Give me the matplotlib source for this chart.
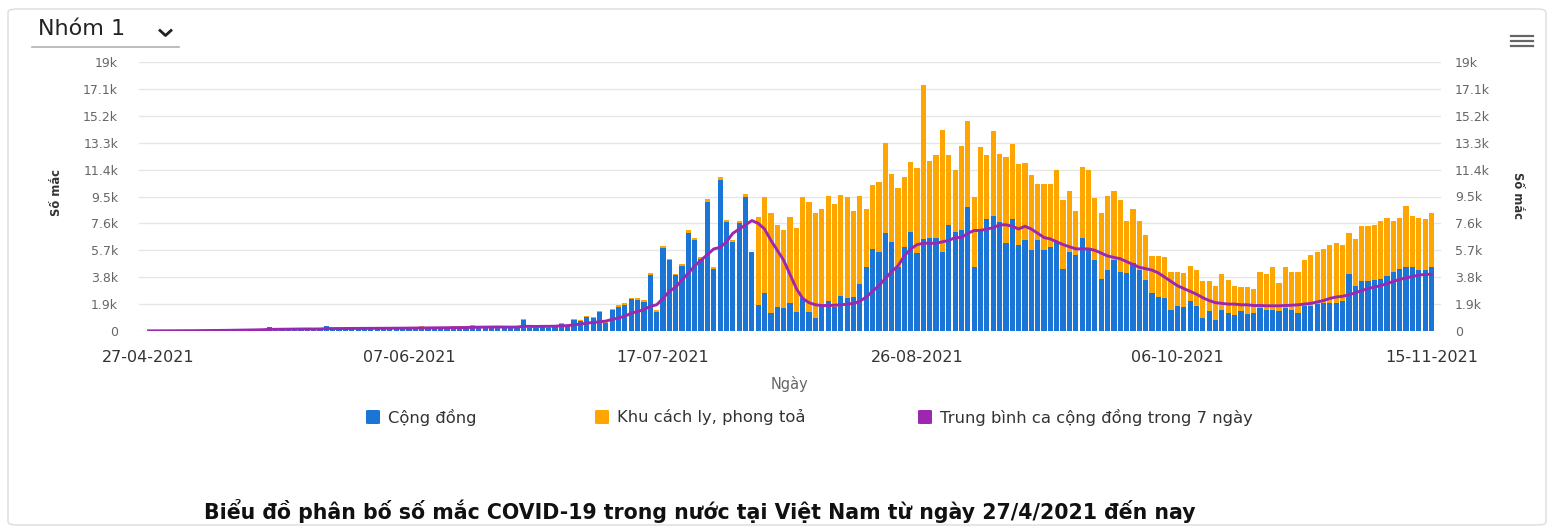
import numpy as np
import pandas as pd
import matplotlib
matplotlib.use("Agg")
import matplotlib.pyplot as plt
from matplotlib.patches import FancyBboxPatch
from matplotlib.lines import Line2D

# ---- data (so ca mac moi ngay, 27-04-2021 -> 15-11-2021) ----
dates = pd.date_range("2021-04-27", "2021-11-15", freq="D")

cong_dong = [
    10, 12, 15, 18, 20, 25, 22, 30, 35, 40,
    45, 60, 55, 70, 80, 85, 95, 110, 120, 250,
    120, 130, 110, 150, 140, 160, 130, 170, 350, 150,
    180, 160, 200, 190, 170, 210, 220, 180, 200, 190,
    210, 230, 220, 300, 200, 190, 240, 250, 260, 300,
    280, 370, 250, 300, 320, 300, 250, 200, 300, 780,
    200, 220, 350, 220, 350, 500, 320, 780, 730, 970,
    900, 1370, 530, 1480, 1720, 1840, 2240, 2200, 2070, 3950,
    1370, 5850, 5000, 3950, 4600, 6950, 6400, 5100, 9100, 4400,
    10660, 7700, 6300, 7600, 9500, 5600, 1840, 2700, 1300, 1700,
    1600, 2000, 1370, 2300, 1370, 900, 1840, 2100, 1700, 2500,
    2300, 2400, 3300, 4500, 5800, 5600, 6900, 6300, 4500, 5900,
    7000, 5500, 6500, 6600, 6600, 5600, 7500, 7000, 7100, 8780,
    4500, 7100, 7900, 8100, 7700, 6200, 7900, 6100, 6400, 5700,
    6400, 5700, 5900, 6300, 4400, 5600, 5400, 6600, 5700, 5000,
    3700, 4300, 5000, 4200, 4100, 4800, 4300, 3600, 2700, 2400,
    2300, 1500, 1800, 1700, 2100, 1800, 900, 1400, 800, 1500,
    1300, 1100, 1400, 1200, 1300, 1600, 1500, 1500, 1400, 1600,
    1500, 1300, 1800, 1800, 1900, 2000, 2000, 2000, 2100, 4000,
    3200, 3500, 3500, 3600, 3700, 3900, 4200, 4400, 4500, 4500,
    4300, 4300, 4500,
]

cach_ly = [
    0, 0, 2, 0, 3, 5, 0, 4, 6, 8,
    5, 10, 8, 12, 10, 15, 10, 12, 15, 20,
    15, 18, 20, 15, 22, 20, 18, 30, 25, 20,
    20, 25, 22, 18, 20, 25, 30, 20, 22, 25,
    25, 30, 35, 28, 25, 30, 45, 40, 60, 70,
    80, 60, 50, 70, 60, 60, 50, 70, 40, 60,
    55, 40, 50, 45, 60, 50, 60, 70, 80, 60,
    70, 40, 80, 90, 100, 110, 120, 100, 90, 150,
    80, 150, 120, 100, 130, 150, 140, 120, 200, 110,
    200, 160, 150, 180, 200, 0, 6230, 6800, 7000, 5800,
    5500, 6070, 5880, 7200, 7730, 7400, 6760, 7400, 7300, 7100,
    7200, 6100, 6200, 4100, 4500, 4900, 6400, 4800, 5600, 5000,
    4960, 6000, 10900, 5400, 5800, 8600, 4900, 4400, 6000, 6020,
    5000, 5900, 4500, 6000, 4800, 6100, 5300, 5700, 5500, 5300,
    4000, 4700, 4500, 5100, 4850, 4300, 3100, 5000, 5700, 4400,
    4600, 5200, 4900, 5050, 3700, 3800, 3500, 3200, 2600, 2900,
    2900, 2700, 2400, 2400, 2500, 2500, 2600, 2100, 2400, 2500,
    2300, 2100, 1700, 1900, 1700, 2600, 2500, 3000, 2000, 2900,
    2700, 2900, 3200, 3600, 3700, 3800, 4100, 4200, 4000, 2900,
    3300, 3900, 3900, 3900, 4100, 4050, 3600, 3550, 4300, 3600,
    3650, 3600, 3800,
]

tb_7_ngay = [
    10, 11, 12, 14, 16, 18, 20, 23, 26, 30,
    34, 39, 44, 50, 57, 64, 72, 80, 90, 115,
    120, 125, 130, 135, 140, 145, 140, 145, 170, 172,
    175, 175, 178, 180, 185, 188, 190, 195, 195, 198,
    200, 205, 210, 220, 220, 222, 225, 230, 235, 240,
    245, 265, 270, 275, 280, 285, 280, 275, 280, 330,
    330, 320, 330, 330, 340, 370, 380, 440, 480, 560,
    600, 650, 700, 820, 920, 1050, 1250, 1380, 1500, 1750,
    1850, 2300, 2800, 3100, 3600, 4100, 4600, 5000, 5400, 5800,
    5900, 6300, 6900, 7200, 7500, 7800, 7600, 7200, 6400, 5700,
    5000, 4000, 3000, 2300, 2000, 1850, 1800, 1800, 1820, 1850,
    1900, 1950, 2100, 2400, 2800, 3200, 3700, 4200, 4600, 5300,
    5800, 6100, 6200, 6200, 6200, 6300, 6400, 6600, 6600, 6900,
    7100, 7100, 7200, 7300, 7500, 7500, 7400, 7200, 7400, 7200,
    6900, 6600, 6500, 6300, 6100, 5950, 5800, 5800, 5800, 5700,
    5500, 5300, 5200, 5100, 4900, 4700, 4500, 4400, 4300, 4100,
    3800, 3500, 3200, 3000, 2800, 2600, 2350, 2150, 2000, 1950,
    1900, 1900, 1850, 1850, 1800, 1800, 1780, 1780, 1780, 1800,
    1820, 1850, 1900, 1950, 2050, 2150, 2300, 2400, 2450, 2550,
    2700, 2850, 3000, 3100, 3200, 3350, 3500, 3650, 3750, 3850,
    3950, 4000, 4000,
]

y_ticks = [0, 1900, 3800, 5700, 7600, 9500, 11400, 13300, 15200, 17100, 19000]
y_labels = ["0", "1.9k", "3.8k", "5.7k", "7.6k", "9.5k", "11.4k", "13.3k", "15.2k", "17.1k", "19k"]
x_tick_dates = pd.to_datetime(["2021-04-27", "2021-06-07", "2021-07-17",
                               "2021-08-26", "2021-10-06", "2021-11-15"])
x_tick_labels = ["27-04-2021", "07-06-2021", "17-07-2021", "26-08-2021", "06-10-2021", "15-11-2021"]

series_names = ["Cộng đồng", "Khu cách ly, phong toả", "Trung bình ca cộng đồng trong 7 ngày"]
c_blue, c_orange, c_purple = "#1b75d6", "#ffa500", "#9c27b0"

# ---- figure, pixel helpers ----
W, H = 1550, 527
fig = plt.figure(figsize=(W / 100, H / 100), dpi=100)


def fx(px):
    return px / W


def fy(py):
    return 1 - py / H


# card border
fig.patches.append(FancyBboxPatch((fx(8), fy(525)), fx(1538), (525 - 9) / H,
                                  boxstyle="round,pad=0,rounding_size=0.006",
                                  transform=fig.transFigure, facecolor="white",
                                  edgecolor="#dcdcdc", lw=1.0, zorder=0))

ax = fig.add_axes([fx(139), fy(331), (1441 - 139) / W, (331 - 62) / H])
ax.set_zorder(2)

ax.bar(dates, cong_dong, width=0.82, color=c_blue, zorder=2)
ax.bar(dates, cach_ly, width=0.82, bottom=cong_dong, color=c_orange, zorder=2)
ax.plot(dates, tb_7_ngay, color=c_purple, lw=2.1, zorder=3)

ax.set_xlim(dates[0] - pd.Timedelta(days=1.5), dates[-1] + pd.Timedelta(days=1.5))
ax.set_ylim(0, 19000)
ax.set_yticks(y_ticks)
ax.set_yticklabels(y_labels)
ax.set_xticks(x_tick_dates)
ax.set_xticklabels(x_tick_labels)
ax.yaxis.grid(True, color="#e6e6e6", lw=1, zorder=0)
ax.set_axisbelow(True)
for s in ax.spines.values():
    s.set_visible(False)
ax.tick_params(axis="y", length=0, pad=15, labelsize=9, labelcolor="#666666")
ax.tick_params(axis="x", length=0, pad=14, labelsize=11.5, labelcolor="#333333")

ax2 = ax.twinx()
ax2.set_ylim(0, 19000)
ax2.set_yticks(y_ticks)
ax2.set_yticklabels(y_labels)
for s in ax2.spines.values():
    s.set_visible(False)
ax2.tick_params(axis="y", length=0, pad=10, labelsize=9, labelcolor="#666666")

# axis titles
fig.text(fx(57), fy(193), "Số mắc", rotation=90, ha="center", va="center",
         fontsize=8.3, fontweight="bold", color="#333333")
fig.text(fx(1518), fy(195), "Số mắc", rotation=270, ha="center", va="center",
         fontsize=8.3, fontweight="bold", color="#333333")
fig.text(fx(790), fy(384), "Ngày", ha="center", va="center", fontsize=10.5, color="#666666")

# legend
legend_items = [(366, c_blue), (595, c_orange), (918, c_purple)]
for (lx, col), name in zip(legend_items, series_names):
    fig.patches.append(FancyBboxPatch((fx(lx), fy(424)), 14 / W, 14 / H,
                                      boxstyle="round,pad=0,rounding_size=0.0015",
                                      transform=fig.transFigure, facecolor=col,
                                      edgecolor="none"))
    fig.text(fx(lx + 22), fy(417), name, ha="left", va="center",
             fontsize=11.8, color="#333333")

# dropdown "Nhom 1"
fig.text(fx(38), fy(29), "Nhóm 1", ha="left", va="center", fontsize=16, color="#222222")
fig.lines.append(Line2D([fx(160), fx(165.5), fx(171)], [fy(30.5), fy(35.5), fy(30.5)],
                        transform=fig.transFigure, color="#222222", lw=2.0))
fig.lines.append(Line2D([fx(32), fx(179)], [fy(46.5), fy(46.5)],
                        transform=fig.transFigure, color="#b0b0b0", lw=1.2))

# menu icon
for yy in (36, 41, 46):
    fig.lines.append(Line2D([fx(1511), fx(1533)], [fy(yy), fy(yy)],
                            transform=fig.transFigure, color="#666666", lw=1.6))

# title
fig.text(fx(700), fy(511), "Biểu đồ phân bố số mắc COVID-19 trong nước tại Việt Nam từ ngày 27/4/2021 đến nay",
         ha="center", va="center", fontsize=14.8, fontweight="bold", family="DejaVu Sans", color="#111111")

fig.savefig("out.png", dpi=100)
